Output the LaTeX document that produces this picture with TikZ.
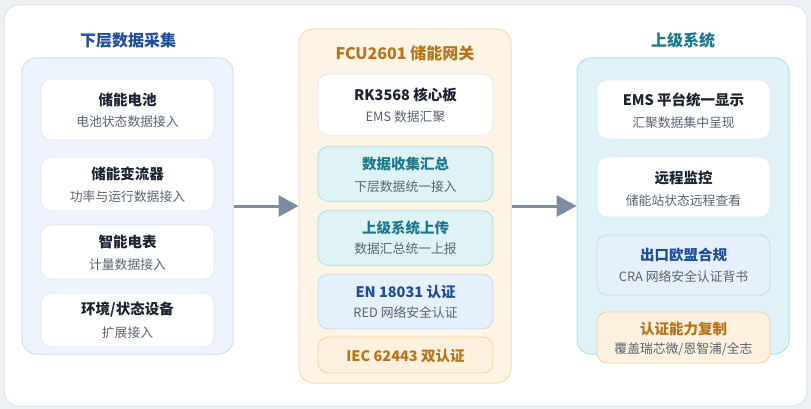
\documentclass[tikz,border=0pt]{standalone}
\usepackage{fontspec}
\setmainfont{Noto Sans CJK SC}
\usetikzlibrary{arrows.meta}
\usetikzlibrary{positioning}

\definecolor{bggrey}{HTML}{EDF1F5}
\definecolor{framegrey}{HTML}{DDE3EA}
\definecolor{cardgrey}{HTML}{E3E8EE}
\definecolor{navy}{HTML}{1C2433}
\definecolor{subgrey}{HTML}{5A6472}
\definecolor{blueT}{HTML}{1F4E9C}
\definecolor{orangeT}{HTML}{B8741A}
\definecolor{tealT}{HTML}{1A7A8C}
\definecolor{lowfill}{HTML}{EEF4FD}
\definecolor{lowline}{HTML}{CDDFF6}
\definecolor{gwfill}{HTML}{FEF4E6}
\definecolor{gwline}{HTML}{F6DCB2}
\definecolor{upfill}{HTML}{E0F2F7}
\definecolor{upline}{HTML}{B3E1EC}
\definecolor{tealfill}{HTML}{DFF2F6}
\definecolor{tealline}{HTML}{A9DDE8}
\definecolor{bluefill}{HTML}{E6EFFC}
\definecolor{blueline}{HTML}{C5D9F6}
\definecolor{orfill}{HTML}{FDF0DE}
\definecolor{orline}{HTML}{F4D49D}
\definecolor{arrowc}{HTML}{7B8CA4}

\tikzset{
  panel/.style={rounded corners=14pt, line width=1pt, inner sep=0pt},
  card/.style={rounded corners=10pt, line width=0.8pt, inner sep=0pt, draw=cardgrey, fill=white},
  ttl/.style={font=\bfseries\fontsize{14.5}{17}\selectfont, text=navy, inner sep=0pt},
  sub/.style={font=\fontsize{12.8}{15}\selectfont, text=subgrey, inner sep=0pt},
  head/.style={font=\bfseries\fontsize{16}{19}\selectfont, inner sep=0pt},
  flow/.style={draw=arrowc, line width=3pt, -{Triangle[length=20pt,width=21pt]}}
}

\begin{document}
\begin{tikzpicture}[x=1pt,y=-1pt]
\useasboundingbox (0,0) rectangle (811,409);
\fill[bggrey] (0,0) rectangle (811,409);
\draw[framegrey, fill=white, rounded corners=15pt, line width=1pt] (4,5) rectangle (807,406);

% panels
\node(lp) [panel, draw=lowline, fill=lowfill, minimum width=211pt, minimum height=296pt] at (127.5,206) {};
\node(mp) [panel, draw=gwline, fill=gwfill, minimum width=212pt, minimum height=354pt] at (405,206) {};
\node(rp) [panel, draw=upline, fill=upfill, minimum width=212pt, minimum height=296pt] at (683,206) {};

\node(lt) [head, text=blueT] at (128,40) {下层数据采集};
\node(mt) [head, text=orangeT] at (405,53) {FCU2601 储能网关};
\node(rt) [head, text=tealT] at (683,40) {上级系统};

% lower layer
\node(lc1) [card, minimum width=173pt, minimum height=61pt] at (127.5,109.5) {};
\node(lc2) [card, minimum width=173pt, minimum height=54pt] at (127.5,184) {};
\node(lc3) [card, minimum width=173pt, minimum height=54pt] at (127.5,252) {};
\node(lc4) [card, minimum width=173pt, minimum height=54pt] at (127.5,320) {};
\node(lc1t) [ttl] at ([yshift=10pt]lc1.center) {储能电池};
\node(lc1s) [sub] at ([yshift=-12.5pt]lc1.center) {电池状态数据接入};
\node(lc2t) [ttl] at ([yshift=10pt]lc2.center) {储能变流器};
\node(lc2s) [sub] at ([yshift=-12.5pt]lc2.center) {功率与运行数据接入};
\node(lc3t) [ttl] at ([yshift=10pt]lc3.center) {智能电表};
\node(lc3s) [sub] at ([yshift=-12.5pt]lc3.center) {计量数据接入};
\node(lc4t) [ttl] at ([yshift=10pt]lc4.center) {环境/状态设备};
\node(lc4s) [sub] at ([yshift=-12.5pt]lc4.center) {扩展接入};

% gateway
\node(mc1) [card, minimum width=175pt, minimum height=61pt] at (405.5,104.5) {};
\node(mc2) [card, draw=tealline, fill=tealfill, minimum width=175pt, minimum height=54.5pt] at (405.5,174) {};
\node(mc3) [card, draw=tealline, fill=tealfill, minimum width=175pt, minimum height=54.5pt] at (405.5,238) {};
\node(mc4) [card, draw=blueline, fill=bluefill, minimum width=175pt, minimum height=54.5pt] at (405.5,301.5) {};
\node(mc5) [card, draw=orline, fill=orfill, minimum width=175pt, minimum height=36pt] at (405.5,355) {};
\node(mc1t) [ttl] at ([yshift=10pt]mc1.center) {RK3568 核心板};
\node(mc1s) [sub] at ([yshift=-12.5pt]mc1.center) {EMS 数据汇聚};
\node(mc2t) [ttl, text=tealT] at ([yshift=10pt]mc2.center) {数据收集汇总};
\node(mc2s) [sub] at ([yshift=-12.5pt]mc2.center) {下层数据统一接入};
\node(mc3t) [ttl, text=tealT] at ([yshift=10pt]mc3.center) {上级系统上传};
\node(mc3s) [sub] at ([yshift=-11pt]mc3.center) {数据汇总统一上报};
\node(mc4t) [ttl, text=blueT] at ([yshift=9.5pt]mc4.center) {EN 18031 认证};
\node(mc4s) [sub] at ([yshift=-11.5pt]mc4.center) {RED 网络安全认证};
\node(mc5t) [ttl, text=orangeT] at ([yshift=-1pt]mc5.center) {IEC 62443 双认证};

% upper layer
\node(rc1) [card, minimum width=173pt, minimum height=59pt] at (683.5,109.5) {};
\node(rc2) [card, minimum width=173pt, minimum height=60pt] at (683.5,187) {};
\node(rc3) [card, draw=blueline, fill=bluefill, minimum width=173pt, minimum height=60pt] at (683.5,265) {};
\node(rc4) [card, draw=orline, fill=orfill, minimum width=173pt, minimum height=51pt] at (683.5,337.5) {};
\node(rc1t) [ttl] at ([yshift=10pt]rc1.center) {EMS 平台统一显示};
\node(rc1s) [sub] at ([yshift=-13pt]rc1.center) {汇聚数据集中呈现};
\node(rc2t) [ttl] at ([yshift=9pt]rc2.center) {远程监控};
\node(rc2s) [sub] at ([yshift=-13.5pt]rc2.center) {储能站状态远程查看};
\node(rc3t) [ttl, text=blueT] at ([yshift=10pt]rc3.center) {出口欧盟合规};
\node(rc3s) [sub] at ([yshift=-12pt]rc3.center) {CRA 网络安全认证背书};
\node(rc4t) [ttl, text=orangeT] at ([yshift=8.5pt]rc4.center) {认证能力复制};
\node(rc4s) [sub] at ([yshift=-11.5pt]rc4.center) {覆盖瑞芯微/恩智浦/全志};

\draw[flow] (lp.east) -- (mp.west);
\draw[flow] (mp.east) -- (rp.west);
\end{tikzpicture}
\end{document}
